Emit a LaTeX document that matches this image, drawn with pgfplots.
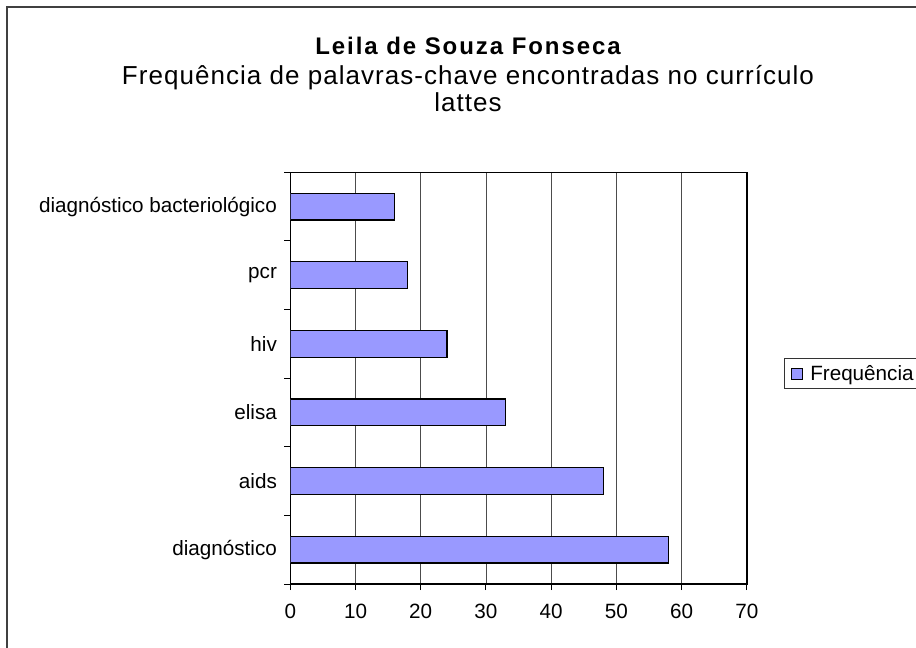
\documentclass[border=0pt]{standalone}
\usepackage{fontspec}
\setmainfont{Liberation Sans}
\newfontfamily\titlefont[LetterSpace=8]{Liberation Sans}
\newfontfamily\subfont[LetterSpace=4]{Liberation Sans}
\usepackage{pgfplots}
\pgfplotsset{compat=1.18}
\definecolor{barblue}{HTML}{9999FF}
\begin{document}
\begin{tikzpicture}
\useasboundingbox (0,0) rectangle (687pt,485.25pt);
\clip (0,0) rectangle (687pt,485.25pt);
\draw[black!75, line width=1pt] (5.25pt,-20pt) rectangle (720pt,480pt);
\node[anchor=base] at (351pt,444pt) {\titlefont\bfseries\fontsize{18}{21}\selectfont Leila de Souza Fonseca};
\node[anchor=base] at (351pt,422pt) {\subfont\fontsize{19.5}{23}\selectfont Frequência de palavras-chave encontradas no currículo};
\node[anchor=base] at (351pt,401.5pt) {\subfont\fontsize{19.5}{23}\selectfont lattes};
\begin{axis}[
  at={(217.7pt,47.25pt)}, anchor=south west,
  scale only axis, width=342.5pt, height=308.8pt,
  xmin=0, xmax=70, ymin=0, ymax=6,
  xtick={0,10,...,70},
  ytick={0.5,1.5,2.5,3.5,4.5,5.5},
  yticklabels={diagnóstico, aids, elisa, hiv, pcr, diagnóstico bacteriológico},
  minor ytick={0,1,...,6},
  major y tick style={draw=none},
  major tick length=4.5pt, minor tick length=4.5pt,
  tick align=outside,
  xtick pos=bottom, ytick pos=left,
  tick style={black, line width=0.75pt},
  axis line style={black, line width=1pt},
  xmajorgrids,
  major x grid style={black!70, line width=0.7pt},
  /pgf/number format/assume math mode=true,
  tick label style={font=\fontsize{15.5}{18}\selectfont},
  xticklabel style={yshift=-7pt},
  yticklabel style={xshift=-2pt},
  legend style={at={(1.081,0.549)}, anchor=north west, draw=black!80, line width=0.75pt,
    font=\fontsize{15.5}{18}\selectfont, inner xsep=5pt, inner ysep=3pt},
  legend image code/.code={\path[draw=none,fill=none] (0pt,0pt) -- (12pt,0pt);\draw[#1, line width=0.75pt] (0pt,-4.1pt) rectangle (8.25pt,4.1pt);},
]
\addplot[xbar, bar width=0.39, fill=barblue, draw=black, line width=1pt]
  coordinates {(58,0.5) (48,1.5) (33,2.5) (24,3.5) (18,4.5) (16,5.5)};
\addlegendentry{Frequência}
\end{axis}
\end{tikzpicture}
\end{document}
